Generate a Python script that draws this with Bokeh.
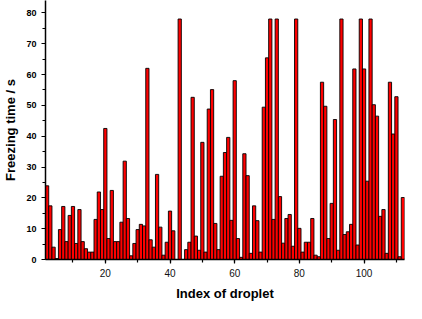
from bokeh.plotting import figure
from bokeh.models import SingleIntervalTicker, Range1d
from bokeh.embed import file_html
from bokeh.resources import INLINE

droplet = list(range(2, 113))
freezing_time = [
    23.9, 17.4, 4.0, 0.3, 9.7, 17.2, 5.8, 14.3, 17.2, 5.2,
    16.2, 5.8, 3.5, 2.4, 2.4, 13.0, 21.9, 16.2, 42.5, 6.8,
    22.4, 5.8, 5.8, 12.1, 31.9, 13.3, 1.2, 5.2, 9.7, 11.4,
    10.9, 62.0, 6.4, 4.0, 27.6, 10.5, 1.4, 5.6, 15.7, 9.3,
    0.0, 78.0, 0.0, 3.2, 5.6, 52.6, 7.6, 3.0, 38.0, 2.4,
    48.8, 55.1, 11.7, 3.2, 27.0, 34.7, 39.6, 12.7, 58.0, 6.8,
    0.7, 34.3, 27.2, 2.0, 17.4, 12.6, 2.4, 49.4, 65.4, 78.0,
    13.0, 78.0, 20.4, 5.3, 13.3, 14.6, 4.3, 78.0, 10.1, 2.4,
    5.6, 5.6, 13.3, 1.4, 0.9, 57.5, 49.7, 6.8, 18.2, 45.4,
    3.0, 78.0, 8.1, 9.0, 11.4, 61.8, 4.7, 78.0, 61.8, 25.4,
    78.0, 50.2, 46.5, 14.0, 16.2, 2.0, 57.5, 40.7, 52.8, 0.9,
    20.1,
]
x_title = "Index of droplet"
y_title = "Freezing time / s"

FONT = "Liberation Sans"

p = figure(width=406, height=303, output_backend="svg", toolbar_location=None,
           x_range=Range1d(1.5, 112.5), y_range=Range1d(0, 84),
           min_border_left=42, min_border_right=2, min_border_top=0,
           min_border_bottom=40)
p.outline_line_color = None
p.grid.visible = False
p.background_fill_color = "white"
p.border_fill_color = "white"

p.vbar(x=droplet, top=freezing_time, width=1.0, bottom=0,
       fill_color="#ff0000", line_color="black", line_width=0.9)

xa = p.xaxis[0]
xa.ticker = SingleIntervalTicker(interval=20, num_minor_ticks=2)
xa.axis_label = x_title
xa.axis_label_text_font = FONT
xa.axis_label_text_font_style = "bold"
xa.axis_label_text_font_size = "13px"
xa.axis_label_text_color = "black"
xa.axis_label_standoff = 6
xa.major_label_text_font = FONT
xa.major_label_text_font_size = "10px"
xa.major_label_text_color = "#111111"
xa.major_label_standoff = 5
xa.major_tick_in = 0
xa.major_tick_out = 4
xa.minor_tick_in = 0
xa.minor_tick_out = 3
xa.axis_line_color = "black"
xa.major_tick_line_color = "black"
xa.minor_tick_line_color = "black"
xa.axis_line_width = 1.5
xa.major_tick_line_width = 1.2
xa.minor_tick_line_width = 1.2

ya = p.yaxis[0]
ya.ticker = SingleIntervalTicker(interval=10, num_minor_ticks=2)
ya.axis_label = y_title
ya.axis_label_text_font = FONT
ya.axis_label_text_font_style = "bold"
ya.axis_label_text_font_size = "13px"
ya.axis_label_text_color = "black"
ya.axis_label_standoff = 5
ya.major_label_text_font = FONT
ya.major_label_text_font_style = "bold"
ya.major_label_text_font_size = "9px"
ya.major_label_text_color = "black"
ya.major_label_standoff = 5
ya.major_tick_in = 0
ya.major_tick_out = 4
ya.minor_tick_in = 0
ya.minor_tick_out = 3
ya.axis_line_color = "black"
ya.major_tick_line_color = "black"
ya.minor_tick_line_color = "black"
ya.axis_line_width = 1.5
ya.major_tick_line_width = 1.2
ya.minor_tick_line_width = 1.2

open("out.html", "w").write(file_html(p, INLINE))
